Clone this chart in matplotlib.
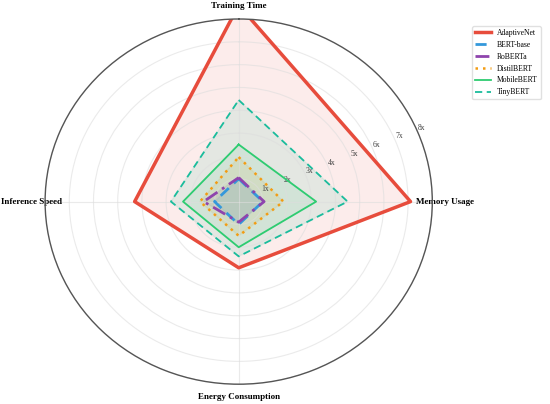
import numpy as np
import matplotlib
matplotlib.use('Agg')
import matplotlib.pyplot as plt

plt.rcParams['font.family'] = ['Liberation Serif', 'DejaVu Serif']

# axes (clockwise from top)
categories = ['Training Time', 'Memory Usage', 'Energy Consumption', 'Inference Speed']

models = ['AdaptiveNet', 'BERT-base', 'RoBERTa', 'DistilBERT', 'MobileBERT', 'TinyBERT']
adaptivenet = [8.6, 7.1, 2.9, 4.3]
bert_base = [1.0, 1.0, 1.0, 1.0]
roberta = [1.05, 1.05, 0.9, 1.45]
distilbert = [1.95, 1.85, 1.5, 1.6]
mobilebert = [2.5, 3.2, 2.0, 2.3]
tinybert = [4.45, 4.5, 2.4, 2.8]

tick_vals = [1, 2, 3, 4, 5, 6, 7, 8]
tick_labels = ['1x', '2x', '3x', '4x', '5x', '6x', '7x', '8x']

colors = ['#e74c3c', '#3498db', '#8e44ad', '#f39c12', '#2ecc71', '#1abc9c']
styles = ['-', (0, (4, 2.5)), (0, (5, 2, 1, 2)), (0, (1, 2)), '-', (0, (4, 2.5))]
widths = [2.5, 2, 2, 1.8, 1.3, 1.3]

series = [adaptivenet, bert_base, roberta, distilbert, mobilebert, tinybert]

angles = np.linspace(0, 2 * np.pi, len(categories), endpoint=False).tolist()
angles += angles[:1]

fig = plt.figure(figsize=(5.5, 4.04), dpi=100)
ax = fig.add_axes([0.082, 0.049, 0.704, 0.904], projection='polar')
ax.set_aspect('auto')
ax.set_theta_offset(np.pi / 2)
ax.set_theta_direction(-1)

for name, vals, c, ls, lw in zip(models, series, colors, styles, widths):
    v = list(vals) + vals[:1]
    ax.plot(angles, v, color=c, linestyle=ls, linewidth=lw, label=name)
    ax.fill(angles, v, color=c, alpha=0.1)

ax.set_xticks(angles[:-1])
ax.set_xticklabels(categories, fontsize=6.5, fontweight='bold')
ax.tick_params(axis='x', pad=-1)
ax.set_ylim(0, 8)
ax.set_yticks(tick_vals)
ax.set_yticklabels(tick_labels, fontsize=5.5, color='#444444')
ax.set_rlabel_position(67.5)
ax.grid(color='#dddddd', alpha=0.6, linewidth=0.8)
ax.spines['polar'].set_color('#555555')
ax.spines['polar'].set_linewidth(1)

fig.legend(loc='upper right', bbox_to_anchor=(0.99, 0.945), fontsize=5.5,
           framealpha=0.9, edgecolor='#dddddd', labelspacing=0.5)

fig.savefig('out.png', dpi=100)
